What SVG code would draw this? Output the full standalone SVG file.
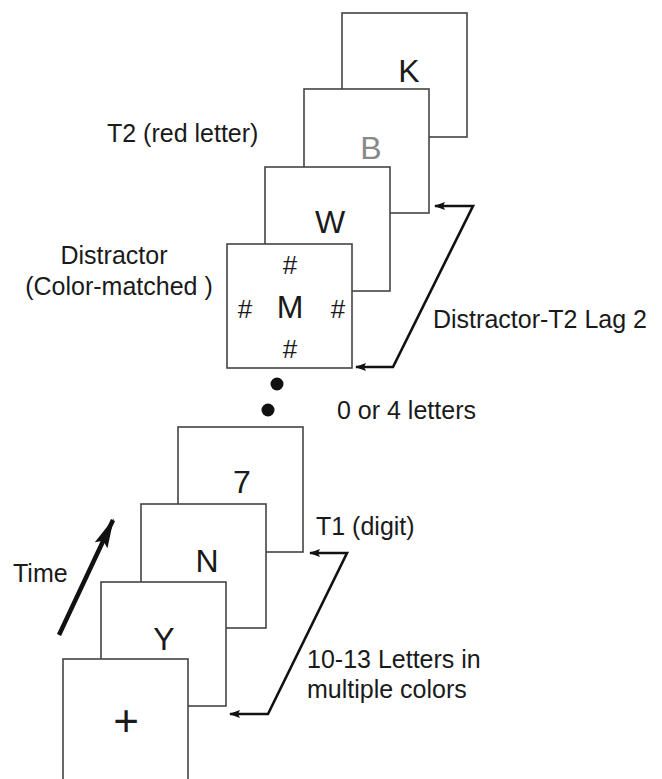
<svg xmlns="http://www.w3.org/2000/svg" width="662" height="779" viewBox="0 0 662 779">
<style>
.box{fill:#fff;stroke:#444;stroke-width:1.6}
.big{font-family:"Liberation Sans",Arial,sans-serif;font-size:32px;fill:#1a1a1a;text-anchor:middle}
.gray{fill:#888}
.hash{font-family:"Liberation Sans",Arial,sans-serif;font-size:26px;fill:#1a1a1a;text-anchor:middle}
.lbl{font-family:"Liberation Sans",Arial,sans-serif;font-size:25px;fill:#1a1a1a}
.conn{fill:none;stroke:#111;stroke-width:2.6;stroke-linejoin:miter}
</style>
<defs>
<marker id="ah" markerUnits="userSpaceOnUse" markerWidth="12" markerHeight="10" refX="10" refY="4" orient="auto-start-reverse" viewBox="0 0 12 8">
<path d="M0,0 L11,4 L0,8 L2,4 z" fill="#111"/>
</marker>
<marker id="ahT" markerUnits="userSpaceOnUse" markerWidth="30" markerHeight="14" refX="28" refY="7" orient="auto" viewBox="0 0 30 14">
<path d="M0,0 L30,7 L0,14 L5,7 z" fill="#111"/>
</marker>
</defs>

<g id="frame-K"><rect class="box" x="342" y="13" width="125" height="124"/><text class="big" x="409" y="82">K</text></g>
<g id="frame-B"><rect class="box" x="304" y="89" width="125" height="124"/><text class="big gray" x="371" y="159">B</text></g>
<g id="frame-W"><rect class="box" x="265" y="167" width="125" height="124"/><text class="big" x="330" y="233">W</text></g>
<g id="frame-M"><rect class="box" x="227" y="244" width="125" height="124"/>
<text class="big" x="290" y="318">M</text>
<text class="hash gray" x="290" y="274">#</text>
<text class="hash" x="245" y="318">#</text>
<text class="hash" x="338" y="318">#</text>
<text class="hash" x="290" y="358">#</text>
</g>

<g id="dots"><circle cx="277" cy="384" r="6.5" fill="#111"/><circle cx="268" cy="410" r="6.5" fill="#111"/></g>

<g id="frame-7"><rect class="box" x="178" y="427" width="125" height="125"/><text class="big" x="242" y="493">7</text></g>
<g id="frame-N"><rect class="box" x="141" y="504" width="125" height="124"/><text class="big" x="207" y="572">N</text></g>
<g id="frame-Y"><rect class="box" x="101" y="582" width="125" height="124"/><text class="big" x="164" y="650">Y</text></g>
<g id="frame-plus"><rect class="box" x="63" y="659" width="125" height="130"/><text class="big" style="font-size:44px" x="126" y="736">+</text></g>

<g id="connectors">
<path class="conn" d="M435,206 L473,206 L393,367 L356,367" marker-start="url(#ah)" marker-end="url(#ah)"/>
<path class="conn" d="M310,553 L347,553 L268,714 L230,714" marker-start="url(#ah)" marker-end="url(#ah)"/>
<line x1="59" y1="635" x2="113" y2="520" stroke="#111" stroke-width="4.5" marker-end="url(#ahT)"/>
</g>

<g id="labels">
<text class="lbl" x="107" y="142">T2 (red letter)</text>
<text class="lbl" x="114" y="264" text-anchor="middle">Distractor</text>
<text class="lbl" x="119" y="295" text-anchor="middle">(Color-matched )</text>
<text class="lbl" x="433" y="328">Distractor-T2 Lag 2</text>
<text class="lbl" x="337" y="419">0 or 4 letters</text>
<text class="lbl" x="316" y="535">T1 (digit)</text>
<text class="lbl" x="13" y="582">Time</text>
<text class="lbl" x="307" y="668">10-13 Letters in</text>
<text class="lbl" x="307" y="698">multiple colors</text>
</g>
</svg>
